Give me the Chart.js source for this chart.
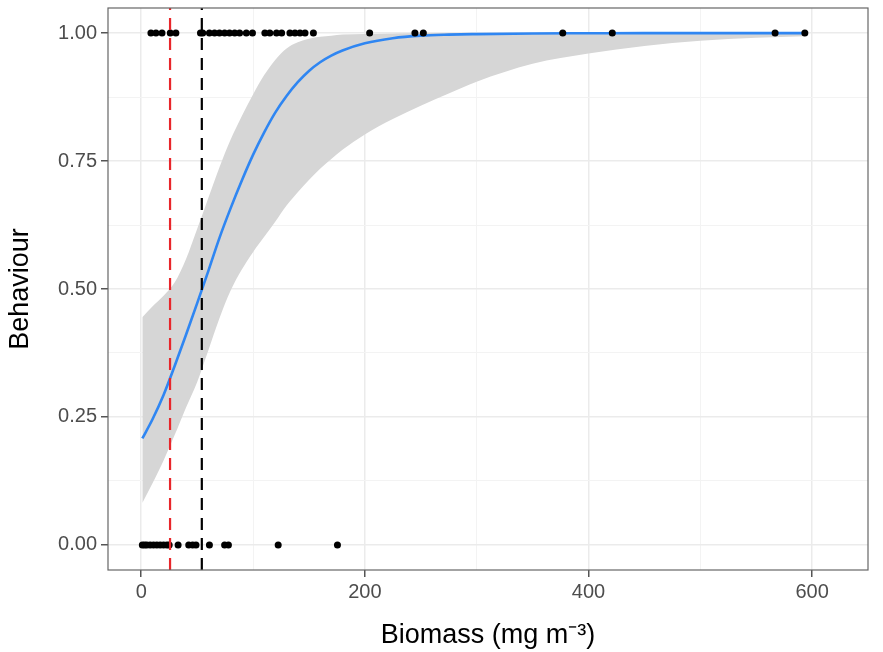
<!DOCTYPE html>
<html lang="en">
<head>
  <meta charset="UTF-8" />
  <title>Behaviour vs Biomass</title>
  <script src="https://cdn.jsdelivr.net/npm/chart.js"></script>
  <style>
    body { margin: 0; background: #fff; }
    canvas { display: block; }
  </style>
</head>
<body>
  <canvas id="fitChart" width="883" height="652"></canvas>
  <script>
    // observations
    const presentBiomass = [8.7, 13.2, 18.6, 26, 31, 53, 55, 61, 65.6, 70, 74.6, 79, 83.6, 88, 94, 99.5,
      110.6, 115, 121, 125.6, 133, 137.5, 142, 146.5, 154, 204.3, 244.8, 252.3, 377, 421.3, 566.9, 593.5];
    const absentBiomass = [1, 3, 5, 8, 11, 14, 17, 20, 23, 25, 33, 42.5, 46, 49, 61, 74.6, 78, 122.5, 175.5];

    // fitted logistic curve and its confidence band
    const fitBiomass = [1, 10, 20, 30, 40, 50, 60, 70, 80, 90, 100, 110, 120, 130, 140, 150, 160, 170, 180,
      200, 225, 250, 275, 300, 350, 400, 450, 500, 550, 593.5];
    const fitValue = [0.208, 0.245, 0.293, 0.35, 0.41, 0.472, 0.535, 0.6, 0.658, 0.712, 0.762, 0.806, 0.845, 0.877,
      0.904, 0.926, 0.943, 0.956, 0.966, 0.98, 0.99, 0.995, 0.997, 0.998, 0.9993, 0.9997, 1, 1, 1, 1];
    const fitUpper = [0.445, 0.466, 0.487, 0.513, 0.558, 0.617, 0.678, 0.738, 0.792, 0.838, 0.88, 0.918, 0.948, 0.97,
      0.982, 0.989, 0.993, 0.995, 0.997, 0.998, 0.999, 1, 1, 1, 1, 1, 1, 1, 1, 1];
    const fitLower = [0.082, 0.12, 0.165, 0.215, 0.268, 0.318, 0.38, 0.443, 0.497, 0.538, 0.572, 0.602, 0.632, 0.663,
      0.689, 0.713, 0.735, 0.754, 0.772, 0.802, 0.832, 0.858, 0.882, 0.905, 0.94, 0.96, 0.975, 0.985, 0.991, 0.994];

    // threshold lines (red, black)
    const thresholds = [25.8, 54.2];
    const thresholdColors = ['#e8262b', '#000000'];

    const xTicks = [0, 100, 200, 300, 400, 500, 600];
    const yTicks = [0, 0.125, 0.25, 0.375, 0.5, 0.625, 0.75, 0.875, 1];
    const xRange = [-29.7, 650];
    const yRange = [-0.049, 1.049];

    const pts = (xs, ys) => xs.map((x, i) => ({ x: x, y: Array.isArray(ys) ? ys[i] : ys }));

    const datasets = [
      { data: pts(fitBiomass, fitLower), showLine: true, borderWidth: 0, borderColor: 'rgba(0,0,0,0)',
        pointRadius: 0, fill: false, cubicInterpolationMode: 'monotone', order: 6 },
      { data: pts(fitBiomass, fitUpper), showLine: true, borderWidth: 0, borderColor: 'rgba(0,0,0,0)',
        pointRadius: 0, fill: '-1', backgroundColor: '#d6d6d6', cubicInterpolationMode: 'monotone', order: 6 },
      { data: pts(fitBiomass, fitValue), showLine: true, borderColor: '#2f86f2', borderWidth: 2.6, pointRadius: 0,
        fill: false, cubicInterpolationMode: 'monotone', order: 5 },
      { data: pts(presentBiomass, 1), showLine: false, pointRadius: 3.5, pointBorderWidth: 0,
        pointBackgroundColor: '#000', order: 3 },
      { data: pts(absentBiomass, 0), showLine: false, pointRadius: 3.5, pointBorderWidth: 0,
        pointBackgroundColor: '#000', order: 3 }
    ];
    thresholds.forEach((t, i) => {
      datasets.push({ data: [{ x: t, y: yRange[0] }, { x: t, y: yRange[1] }], showLine: true,
        borderColor: thresholdColors[i], borderWidth: 2.2, borderDash: [12, 8], pointRadius: 0, fill: false, order: 1 });
    });

    const isMajorX = v => v % 200 === 0;
    const isMajorY = v => Math.abs(v * 4 - Math.round(v * 4)) < 1e-6;

    const panelBorder = {
      id: 'panelBorder',
      afterDraw(chart) {
        const a = chart.chartArea, c = chart.ctx;
        c.save();
        c.strokeStyle = '#666';
        c.lineWidth = 1.2;
        c.strokeRect(a.left, a.top, a.right - a.left, a.bottom - a.top);
        c.restore();
      }
    };

    new Chart(document.getElementById('fitChart'), {
      type: 'scatter',
      data: { datasets: datasets },
      plugins: [panelBorder],
      options: {
        responsive: false,
        animation: false,
        layout: { padding: { top: 8, right: 15, left: 0, bottom: 0 } },
        plugins: { legend: { display: false }, tooltip: { enabled: false } },
        elements: { line: { tension: 0 } },
        scales: {
          x: {
            type: 'linear', min: xRange[0], max: xRange[1],
            afterBuildTicks: s => { s.ticks = xTicks.map(v => ({ value: v })); },
            afterFit: s => { s.height = 82; s.paddingLeft = 0; s.paddingRight = 0; },
            border: { display: false },
            grid: {
              color: c => isMajorX(c.tick.value) ? '#ebebeb' : '#f3f3f3',
              lineWidth: c => isMajorX(c.tick.value) ? 1.5 : 1,
              tickColor: c => isMajorX(c.tick.value) ? '#555' : 'rgba(0,0,0,0)',
              tickLength: 7
            },
            ticks: {
              autoSkip: false, maxRotation: 0, padding: 3,
              color: '#4d4d4d', font: { family: 'Liberation Sans, Arial, sans-serif', size: 20 },
              callback: v => isMajorX(v) ? String(v) : ''
            },
            title: {
              display: true, text: 'Biomass (mg m\u207B\u00B3)', color: '#000',
              font: { family: 'Liberation Sans, Arial, sans-serif', size: 27 },
              padding: { top: 1, bottom: 0 }
            }
          },
          y: {
            type: 'linear', min: yRange[0], max: yRange[1],
            afterBuildTicks: s => { s.ticks = yTicks.map(v => ({ value: v })); },
            afterFit: s => { s.width = 108; s.paddingTop = 0; s.paddingBottom = 0; },
            border: { display: false },
            grid: {
              color: c => isMajorY(c.tick.value) ? '#ebebeb' : '#f3f3f3',
              lineWidth: c => isMajorY(c.tick.value) ? 1.5 : 1,
              tickColor: c => isMajorY(c.tick.value) ? '#555' : 'rgba(0,0,0,0)',
              tickLength: 7
            },
            ticks: {
              autoSkip: false, padding: 4,
              color: '#4d4d4d', font: { family: 'Liberation Sans, Arial, sans-serif', size: 20 },
              callback: v => isMajorY(v) ? v.toFixed(2) : ''
            },
            title: {
              display: true, text: 'Behaviour', color: '#000',
              font: { family: 'Liberation Sans, Arial, sans-serif', size: 27 },
              padding: { top: 4, bottom: 0 }
            }
          }
        }
      }
    });
  </script>
</body>
</html>
